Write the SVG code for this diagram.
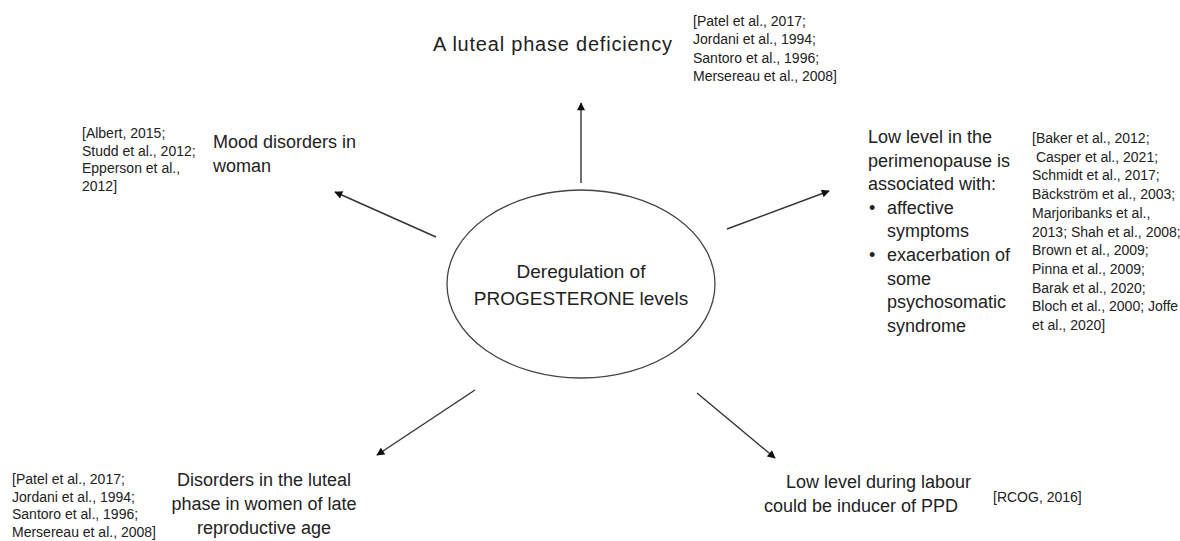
<svg xmlns="http://www.w3.org/2000/svg" width="1180" height="541" viewBox="0 0 1180 541">
<style>
.lbl{font-family:"Liberation Sans",Arial,sans-serif;font-size:18px;fill:#222}
.cit{font-family:"Liberation Sans",Arial,sans-serif;font-size:14px;fill:#222}
.ctr{font-family:"Liberation Sans",Arial,sans-serif;font-size:19px;fill:#222;text-anchor:middle}
.mid{text-anchor:middle}
.arr{stroke:#333;stroke-width:1.4;fill:none;marker-end:url(#ah)}
</style>
<defs>
<marker id="ah" viewBox="0 0 10 10" refX="9" refY="5" markerWidth="9" markerHeight="8" markerUnits="userSpaceOnUse" orient="auto">
<path d="M0,0 L10,5 L0,10 z" fill="#111"/>
</marker>
</defs>
<rect width="1180" height="541" fill="#fff"/>
<g id="connectors">
<line class="arr" x1="581" y1="183" x2="581" y2="103"/>
<line class="arr" x1="436" y1="237" x2="335" y2="192"/>
<line class="arr" x1="727" y1="229" x2="829" y2="191"/>
<line class="arr" x1="475" y1="390" x2="377" y2="455"/>
<line class="arr" x1="697" y1="393" x2="775" y2="458"/>
</g>
<g id="center">
<ellipse cx="581" cy="284" rx="134" ry="94" fill="none" stroke="#444" stroke-width="1.3"/>
<text class="ctr" x="581" y="278">Deregulation of</text>
<text class="ctr" x="581" y="305">PROGESTERONE levels</text>
</g>
<g id="node-top">
<text class="lbl" x="433" y="51" style="font-size:20px" textLength="239" lengthAdjust="spacing">A luteal phase deficiency</text>
<text class="cit" x="693" y="26">[Patel et al., 2017;</text>
<text class="cit" x="693" y="44.3">Jordani et al., 1994;</text>
<text class="cit" x="693" y="62.6">Santoro et al., 1996;</text>
<text class="cit" x="693" y="81">Mersereau et al., 2008]</text>
</g>
<g id="node-mood">
<text class="lbl" x="213" y="148">Mood disorders in</text>
<text class="lbl" x="213" y="172">woman</text>
<text class="cit" x="82" y="138">[Albert, 2015;</text>
<text class="cit" x="82" y="156">Studd et al., 2012;</text>
<text class="cit" x="82" y="173">Epperson et al.,</text>
<text class="cit" x="82" y="191">2012]</text>
</g>
<g id="node-perimenopause">
<text class="lbl" x="868" y="143">Low level in the</text>
<text class="lbl" x="868" y="166.6">perimenopause is</text>
<text class="lbl" x="868" y="190.2">associated with:</text>
<text class="lbl" x="869" y="213.8">•</text>
<text class="lbl" x="887" y="213.8">affective</text>
<text class="lbl" x="887" y="237.4">symptoms</text>
<text class="lbl" x="869" y="261">•</text>
<text class="lbl" x="887" y="261">exacerbation of</text>
<text class="lbl" x="887" y="284.6">some</text>
<text class="lbl" x="887" y="308.2">psychosomatic</text>
<text class="lbl" x="887" y="331.8">syndrome</text>
<text class="cit" x="1032" y="143">[Baker et al., 2012;</text>
<text class="cit" x="1032" y="161.7" xml:space="preserve"> Casper et al., 2021;</text>
<text class="cit" x="1032" y="180.4">Schmidt et al., 2017;</text>
<text class="cit" x="1032" y="199.1">Bäckström et al., 2003;</text>
<text class="cit" x="1032" y="217.8">Marjoribanks et al.,</text>
<text class="cit" x="1032" y="236.5">2013; Shah et al., 2008;</text>
<text class="cit" x="1032" y="255.2">Brown et al., 2009;</text>
<text class="cit" x="1032" y="273.9">Pinna et al., 2009;</text>
<text class="cit" x="1032" y="292.6">Barak et al., 2020;</text>
<text class="cit" x="1032" y="311.3">Bloch et al., 2000; Joffe</text>
<text class="cit" x="1032" y="330">et al., 2020]</text>
</g>
<g id="node-luteal-late">
<text class="lbl mid" x="264" y="486">Disorders in the luteal</text>
<text class="lbl mid" x="264" y="510">phase in women of late</text>
<text class="lbl mid" x="264" y="534">reproductive age</text>
<text class="cit" x="12" y="484">[Patel et al., 2017;</text>
<text class="cit" x="12" y="501.5">Jordani et al., 1994;</text>
<text class="cit" x="12" y="519">Santoro et al., 1996;</text>
<text class="cit" x="12" y="536.5">Mersereau et al., 2008]</text>
</g>
<g id="node-labour">
<text class="lbl" x="786" y="488">Low level during labour</text>
<text class="lbl" x="764" y="512">could be inducer of PPD</text>
<text class="cit" x="993" y="502">[RCOG, 2016]</text>
</g>
</svg>
